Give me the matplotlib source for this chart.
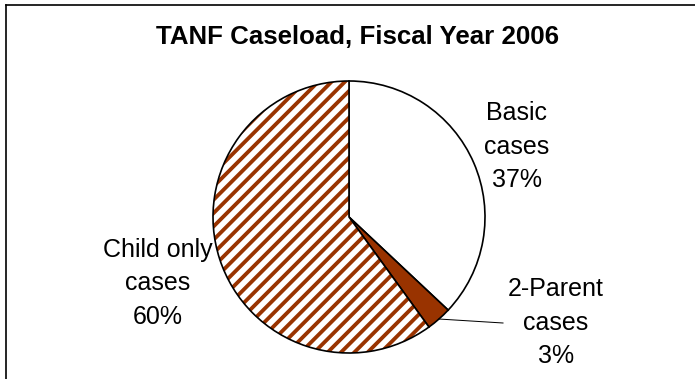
import numpy as np
import matplotlib
matplotlib.use("Agg")
import matplotlib.pyplot as plt
from matplotlib.patches import Wedge
from matplotlib.lines import Line2D

plt.rcParams['font.family'] = ['Liberation Sans', 'DejaVu Sans']
plt.rcParams['hatch.linewidth'] = 2.3

# données
categories = ["Basic\ncases", "2-Parent\ncases", "Child only\ncases"]
parts = [37, 3, 60]
couleurs = ["white", "#993300", "white"]
titre = "TANF Caseload, Fiscal Year 2006"

W, H, DPI = 695, 379, 120
fig = plt.figure(figsize=(W / DPI, H / DPI), dpi=DPI)
ax = fig.add_axes([0, 0, 1, 1])

cx, cy, r = 349, H - 217, 136
wedges, _ = ax.pie(parts, colors=couleurs, startangle=90, counterclock=False,
                   center=(cx, cy), radius=r,
                   wedgeprops=dict(edgecolor="black", linewidth=1.0))

# hachures de la part "Child only"
w = wedges[2]
w.set_hatch("///")
w.set_edgecolor("#993300")
w.set_linewidth(0)
ax.add_patch(Wedge(w.center, w.r, w.theta1, w.theta2, fill=False,
                   edgecolor="black", linewidth=1.0, zorder=3))

ax.set_xlim(0, W)
ax.set_ylim(0, H)
ax.set_aspect("equal")
ax.axis("off")

# étiquettes (y = ligne de base de la dernière ligne)
fs = 15
pos = [(517, H - 187), (556, H - 363), (158, H - 324)]
for k in range(3):
    txt = f"{categories[k]}\n{parts[k]}%"
    ax.text(pos[k][0], pos[k][1], txt, ha="center", va="baseline",
            multialignment="center", fontsize=fs, linespacing=1.5)

# trait de rappel pour 2-Parent
w = wedges[1]
a = np.radians((w.theta1 + w.theta2) / 2)
ax.plot([cx + r * np.cos(a), 503], [cy + r * np.sin(a), H - 323],
        color="black", linewidth=0.6)

ax.text(357, H - 44, titre, ha="center", va="baseline",
        fontsize=15.5, fontweight="bold")

# cadre (bords gauche et haut seulement visibles)
fig.add_artist(Line2D([6 / W, 6 / W], [0, 1 - 5 / H], color="black",
                      linewidth=1.0, transform=fig.transFigure))
fig.add_artist(Line2D([6 / W, 1], [1 - 5 / H, 1 - 5 / H], color="black",
                      linewidth=1.0, transform=fig.transFigure))

fig.savefig("out.png", dpi=DPI)
